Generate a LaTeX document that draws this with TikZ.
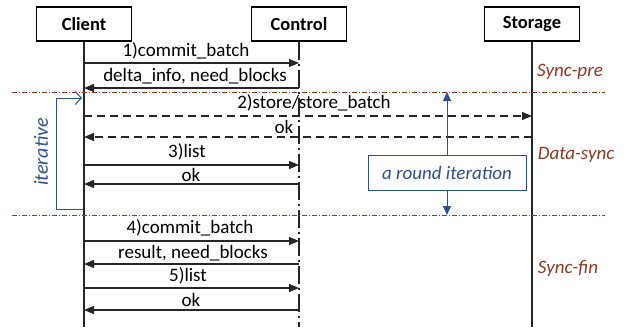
\documentclass[tikz,border=0pt]{standalone}
\usepackage{fontspec}
\setmainfont{Carlito}
\usetikzlibrary{arrows.meta}
\definecolor{phasered}{HTML}{8B3A26}
\definecolor{iterblue}{HTML}{2F5090}
\tikzset{
  actor/.style={draw, line width=1.2pt, minimum width=95pt, minimum height=34pt,
    inner sep=0pt, font=\fontsize{18.5}{20}\selectfont\bfseries},
  life/.style={line width=1.8pt, black!85},
  ctrllife/.style={line width=1.8pt, black!85, dash pattern=on 18pt off 4pt on 2pt off 4pt},
  msg/.style={line width=1.3pt, black!85, -{Triangle[length=10pt,width=8pt]}},
  asyncmsg/.style={msg, dash pattern=on 8pt off 5pt},
  lbl/.style={font=\fontsize{19}{20}\selectfont, inner sep=0pt},
  phase/.style={font=\fontsize{19}{20}\selectfont\itshape, text=phasered, inner sep=0pt},
  sep/.style={line width=0.7pt, phasered, dash pattern=on 5pt off 2pt on 1pt off 2pt},
  roundbox/.style={draw=iterblue, line width=0.9pt, minimum width=158pt, minimum height=35pt,
    inner sep=0pt, text=iterblue, font=\fontsize{19}{20}\selectfont\itshape},
  iterline/.style={iterblue, line width=1pt},
}
\begin{document}
\begin{tikzpicture}[x=1pt,y=-1pt]
\useasboundingbox (0,0) rectangle (626,333);

% participants
\node[actor] (client)  at (84,24)  {Client};
\node[actor] (control) at (299,24) {Control};
\node[actor] (storage) at (532,24) {Storage};

% lifelines
\coordinate (clientEnd)  at (84,327);
\coordinate (controlEnd) at (299,327);
\coordinate (storageEnd) at (532,327);
\draw[life] (client.south) -- (clientEnd);
\draw[ctrllife] (control.south) -- (controlEnd);
\draw[life] (storage.south) -- (storageEnd);

% message end points on the lifelines
\foreach \n/\y in {1/63, 2/88, 3/116, 4/137, 5/165, 6/184, 7/241, 8/264, 9/288, 10/310} {
  \coordinate (cl\n) at (84,\y);
  \coordinate (ct\n) at (299,\y);
  \coordinate (st\n) at (532,\y);
}

% phase separators
\coordinate (sepAL) at (12,92);  \coordinate (sepAR) at (605,92);
\coordinate (sepBL) at (12,215); \coordinate (sepBR) at (605,215);
\draw[sep] (sepAL) -- (sepAR);
\draw[sep] (sepBL) -- (sepBR);

% Sync-pre
\draw[msg] (cl1) -- (ct1);
\node[lbl] (m1) at (186,51) {1)commit\_batch};
\draw[msg] (ct2) -- (cl2);
\node[lbl] (m2) at (195,76) {delta\_info, need\_blocks};

% Data-sync
\draw[asyncmsg] (cl3) -- (st3);
\node[lbl] (m3) at (314,103) {2)store/store\_batch};
\draw[asyncmsg] (st4) -- (cl4);
\node[lbl] (m4) at (284,127) {ok};
\draw[msg] (cl5) -- (ct5);
\node[lbl] (m5) at (187,152) {3)list};
\draw[msg] (ct6) -- (cl6);
\node[lbl] (m6) at (191,175) {ok};

% Sync-fin
\draw[msg] (cl7) -- (ct7);
\node[lbl] (m7) at (190,228) {4)commit\_batch};
\draw[msg] (ct8) -- (cl8);
\node[lbl] (m8) at (193,253) {result, need\_blocks};
\draw[msg] (cl9) -- (ct9);
\node[lbl] (m9) at (188,276) {5)list};
\draw[msg] (ct10) -- (cl10);
\node[lbl] (m10) at (191,300) {ok};

% phase names
\node[phase] (p1) at (570,72)  {Sync-pre};
\node[phase] (p2) at (576,155) {Data-sync};
\node[phase] (p3) at (568,268) {Sync-fin};

% iteration loop
\coordinate (loopStart) at (83,209);
\coordinate (loopEnd)   at (82,98);
\draw[iterline, -{Straight Barb[length=6pt,width=13pt]}]
  (loopStart) -- (56,209) -- (56,98) -- (loopEnd);
\node[rotate=90, text=iterblue, font=\fontsize{20}{20}\selectfont\itshape, inner sep=0pt]
  (iter) at (41,152) {iterative};

% one round
\node[roundbox, fill=white] (round) at (447,172.5) {a round iteration};
\coordinate (roundTop) at (447,92);
\coordinate (roundBot) at (447,215);
\draw[iterline, -{Triangle[length=9pt,width=8pt]}] (round.north) -- (roundTop);
\draw[iterline, -{Triangle[length=9pt,width=8pt]}] (round.south) -- (roundBot);
\end{tikzpicture}
\end{document}
